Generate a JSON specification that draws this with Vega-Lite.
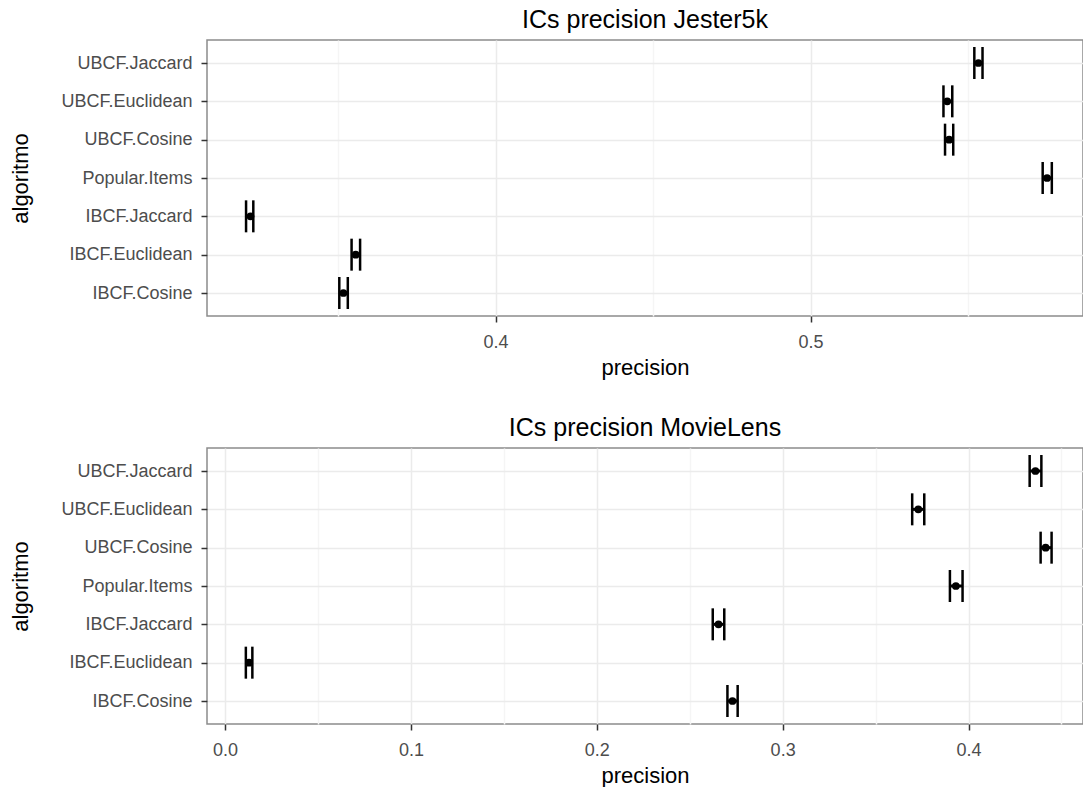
{
  "$schema": "https://vega.github.io/schema/vega-lite/v6.json",
  "autosize": {"type": "pad"},
  "padding": {"left": 8, "top": 7, "right": 0, "bottom": 0},
  "background": "white",
  "bounds": "flush",
  "spacing": 132,
  "datasets": {
    "jester": [
      {"algoritmo": "UBCF.Jaccard", "precision": 0.5533, "lo": 0.5520, "hi": 0.5546},
      {"algoritmo": "UBCF.Euclidean", "precision": 0.5434, "lo": 0.5422, "hi": 0.5450},
      {"algoritmo": "UBCF.Cosine", "precision": 0.5440, "lo": 0.5427, "hi": 0.5453},
      {"algoritmo": "Popular.Items", "precision": 0.5751, "lo": 0.5737, "hi": 0.5766},
      {"algoritmo": "IBCF.Jaccard", "precision": 0.3222, "lo": 0.3208, "hi": 0.3231},
      {"algoritmo": "IBCF.Euclidean", "precision": 0.3556, "lo": 0.3543, "hi": 0.3570},
      {"algoritmo": "IBCF.Cosine", "precision": 0.3517, "lo": 0.3504, "hi": 0.3531}
    ],
    "movielens": [
      {"algoritmo": "UBCF.Jaccard", "precision": 0.4360, "lo": 0.4329, "hi": 0.4392},
      {"algoritmo": "UBCF.Euclidean", "precision": 0.3730, "lo": 0.3697, "hi": 0.3762},
      {"algoritmo": "UBCF.Cosine", "precision": 0.4415, "lo": 0.4388, "hi": 0.4447},
      {"algoritmo": "Popular.Items", "precision": 0.3932, "lo": 0.3900, "hi": 0.3968},
      {"algoritmo": "IBCF.Jaccard", "precision": 0.2655, "lo": 0.2624, "hi": 0.2686},
      {"algoritmo": "IBCF.Euclidean", "precision": 0.0129, "lo": 0.0112, "hi": 0.0147},
      {"algoritmo": "IBCF.Cosine", "precision": 0.2730, "lo": 0.2703, "hi": 0.2758}
    ]
  },
  "vconcat": [
    {
      "width": 876,
      "height": 276,
      "title": {"text": "ICs precision Jester5k"},
      "data": {"name": "jester"},
      "encoding": {
        "y": {
          "field": "algoritmo", "type": "nominal",
          "scale": {"type": "point", "padding": 0.6, "domain": ["UBCF.Jaccard", "UBCF.Euclidean", "UBCF.Cosine", "Popular.Items", "IBCF.Jaccard", "IBCF.Euclidean", "IBCF.Cosine"]},
          "axis": {"title": "algoritmo"}
        }
      },
      "layer": [
        {
          "mark": {"type": "rule", "color": "black", "strokeWidth": 3},
          "encoding": {
            "x": {"field": "lo", "type": "quantitative",
              "scale": {"domain": [0.3084, 0.5865], "nice": false, "zero": false},
              "axis": {"values": [0.4, 0.5], "format": ".1f", "title": "precision"}},
            "x2": {"field": "hi"}
          }
        },
        {
          "mark": {"type": "tick", "orient": "vertical", "size": 32, "thickness": 2.5, "color": "black", "opacity": 1},
          "encoding": {
            "x": {"field": "lo", "type": "quantitative",
              "axis": {"orient": "top", "values": [0.35, 0.45, 0.55], "labels": false, "ticks": false, "domain": false, "title": null, "grid": true, "gridColor": "#f5f5f5"}}
          }
        },
        {
          "mark": {"type": "tick", "orient": "vertical", "size": 32, "thickness": 2.5, "color": "black", "opacity": 1},
          "encoding": {"x": {"field": "hi", "type": "quantitative", "axis": null}}
        },
        {
          "mark": {"type": "point", "filled": true, "size": 60, "color": "black", "opacity": 1},
          "encoding": {"x": {"field": "precision", "type": "quantitative", "axis": null}}
        }
      ],
      "resolve": {"axis": {"x": "independent"}}
    },
    {
      "width": 876,
      "height": 276,
      "title": {"text": "ICs precision MovieLens"},
      "data": {"name": "movielens"},
      "encoding": {
        "y": {
          "field": "algoritmo", "type": "nominal",
          "scale": {"type": "point", "padding": 0.6, "domain": ["UBCF.Jaccard", "UBCF.Euclidean", "UBCF.Cosine", "Popular.Items", "IBCF.Jaccard", "IBCF.Euclidean", "IBCF.Cosine"]},
          "axis": {"title": "algoritmo"}
        }
      },
      "layer": [
        {
          "mark": {"type": "rule", "color": "black", "strokeWidth": 3},
          "encoding": {
            "x": {"field": "lo", "type": "quantitative",
              "scale": {"domain": [-0.0097, 0.4616], "nice": false, "zero": false},
              "axis": {"values": [0, 0.1, 0.2, 0.3, 0.4], "format": ".1f", "title": "precision"}},
            "x2": {"field": "hi"}
          }
        },
        {
          "mark": {"type": "tick", "orient": "vertical", "size": 32, "thickness": 2.5, "color": "black", "opacity": 1},
          "encoding": {
            "x": {"field": "lo", "type": "quantitative",
              "axis": {"orient": "top", "values": [0.05, 0.15, 0.25, 0.35, 0.45], "labels": false, "ticks": false, "domain": false, "title": null, "grid": true, "gridColor": "#f5f5f5"}}
          }
        },
        {
          "mark": {"type": "tick", "orient": "vertical", "size": 32, "thickness": 2.5, "color": "black", "opacity": 1},
          "encoding": {"x": {"field": "hi", "type": "quantitative", "axis": null}}
        },
        {
          "mark": {"type": "point", "filled": true, "size": 60, "color": "black", "opacity": 1},
          "encoding": {"x": {"field": "precision", "type": "quantitative", "axis": null}}
        }
      ],
      "resolve": {"axis": {"x": "independent"}}
    }
  ],
  "config": {
    "font": "Liberation Sans",
    "view": {"stroke": "#8c8c8c", "strokeWidth": 1.5},
    "title": {"fontSize": 25, "fontWeight": "normal", "color": "#000000", "anchor": "middle", "frame": "group", "offset": 7, "font": "Liberation Sans"},
    "axis": {
      "labelFont": "Liberation Sans", "labelFontSize": 18, "labelColor": "#4d4d4d",
      "titleFont": "Liberation Sans", "titleFontSize": 22, "titleFontWeight": "normal", "titleColor": "#000000",
      "tickColor": "#333333", "tickSize": 6, "tickWidth": 1.5,
      "domain": false, "grid": true, "gridColor": "#ebebeb", "gridWidth": 1.5
    },
    "axisX": {"labelPadding": 11, "titleBaseline": "alphabetic", "titleY": 58, "titleX": 438, "titleAnchor": "middle"},
    "axisY": {"labelPadding": 9, "titleBaseline": "alphabetic", "titleX": -180, "titleY": 138, "titleAngle": -90}
  }
}
